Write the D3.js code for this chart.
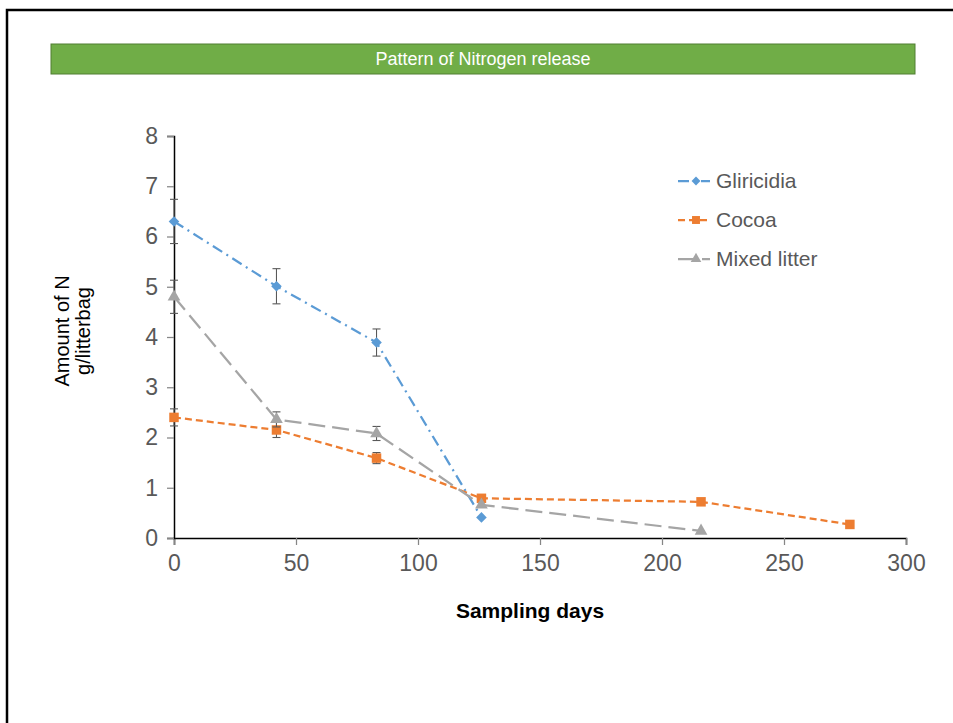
<!DOCTYPE html>
<html>
<head>
<meta charset="utf-8">
<script src="https://cdn.jsdelivr.net/npm/d3@7"></script>
<style>
  body { margin: 0; background: #fff; }
  text { font-family: "Liberation Sans", Arial, sans-serif; }
</style>
</head>
<body>
<div id="chart"></div>
<script>
// Data
const seriesNames = ["Gliricidia", "Cocoa", "Mixed litter"];
const gliricidiaDays = [0, 42, 83, 126];
const gliricidiaN = [6.3, 5.01, 3.89, 0.41];
const gliricidiaErr = [0.44, 0.35, 0.27, 0];
const cocoaDays = [0, 42, 83, 126, 216, 277];
const cocoaN = [2.4, 2.15, 1.59, 0.79, 0.72, 0.27];
const cocoaErr = [0.17, 0.15, 0.11, 0, 0, 0];
const mixedDays = [0, 42, 83, 126, 216];
const mixedN = [4.8, 2.36, 2.08, 0.66, 0.14];
const mixedErr = [0.33, 0.15, 0.14, 0, 0];
const xTicks = [0, 50, 100, 150, 200, 250, 300];
const yTicks = [0, 1, 2, 3, 4, 5, 6, 7, 8];

const W = 953, H = 723;
const plot = { left: 174, right: 906, top: 136, bottom: 538 };

const svg = d3.select("#chart").append("svg")
  .attr("width", W).attr("height", H);

// Outer frame
svg.append("path")
  .attr("d", `M7,${H} L7,10 L${W},10`)
  .attr("fill", "none").attr("stroke", "#000").attr("stroke-width", 2.5);

// Title banner
svg.append("rect")
  .attr("x", 51).attr("y", 44).attr("width", 864).attr("height", 30)
  .attr("fill", "#70ad47").attr("stroke", "#507e32").attr("stroke-width", 1);
svg.append("text")
  .attr("x", 483).attr("y", 65)
  .attr("text-anchor", "middle")
  .attr("fill", "#fff").style("font-size", "18px")
  .text("Pattern of Nitrogen release");

const x = d3.scaleLinear().domain([0, 300]).range([plot.left, plot.right]);
const y = d3.scaleLinear().domain([0, 8]).range([plot.bottom, plot.top]);

// Axes
const xAxis = svg.append("g")
  .attr("transform", `translate(0,${plot.bottom})`)
  .call(d3.axisBottom(x).tickValues(xTicks).tickSize(7).tickPadding(10));
const yAxis = svg.append("g")
  .attr("transform", `translate(${plot.left},0)`)
  .call(d3.axisLeft(y).tickValues(yTicks).tickSize(7).tickPadding(9));

[xAxis, yAxis].forEach(g => {
  g.select(".domain").attr("stroke", "#000").attr("stroke-width", 1.5);
  g.selectAll(".tick line").attr("stroke", "#868686").attr("stroke-width", 1.25);
  g.selectAll(".tick text")
    .attr("fill", "#595959")
    .style("font-size", "23px")
    .style("font-family", "'Liberation Sans', Arial, sans-serif");
});
xAxis.selectAll(".tick text").attr("dy", "0.71em");

// Axis titles
svg.append("text")
  .attr("x", 530).attr("y", 618)
  .attr("text-anchor", "middle")
  .style("font-size", "21px").style("font-weight", "bold")
  .text("Sampling days");

const yTitle = svg.append("text")
  .attr("transform", "translate(69,331) rotate(-90)")
  .attr("text-anchor", "middle")
  .style("font-size", "20px");
yTitle.append("tspan").attr("x", 0).attr("dy", 0).text("Amount of N");
yTitle.append("tspan").attr("x", 0).attr("dy", 21).text("g/litterbag");

const series = [
  { name: seriesNames[0], days: gliricidiaDays, vals: gliricidiaN, err: gliricidiaErr,
    color: "#5b9bd5", dash: "11,5,2,5", symbol: d3.symbolSquare, size: 56, rot: 45 },
  { name: seriesNames[1], days: cocoaDays, vals: cocoaN, err: cocoaErr,
    color: "#ed7d31", dash: "7,4", symbol: d3.symbolSquare, size: 90, rot: 0 },
  { name: seriesNames[2], days: mixedDays, vals: mixedN, err: mixedErr,
    color: "#a5a5a5", dash: "17,7", symbol: d3.symbolTriangle, size: 70, rot: 0 }
];

const line = d3.line().x(d => x(d.d)).y(d => y(d.v));

series.forEach(s => {
  const pts = s.days.map((d, i) => ({ d, v: s.vals[i], e: s.err[i] }));

  svg.append("path")
    .datum(pts)
    .attr("d", line)
    .attr("fill", "none")
    .attr("stroke", s.color)
    .attr("stroke-width", 2.25)
    .attr("stroke-dasharray", s.dash);

  // error bars
  const eb = svg.append("g").selectAll("g")
    .data(pts.filter(p => p.e > 0))
    .join("g")
    .attr("stroke", "#595959").attr("stroke-width", 1.1);
  eb.append("line")
    .attr("x1", p => x(p.d)).attr("x2", p => x(p.d))
    .attr("y1", p => y(p.v + p.e)).attr("y2", p => y(p.v - p.e));
  eb.append("line")
    .attr("x1", p => x(p.d) - 4).attr("x2", p => x(p.d) + 4)
    .attr("y1", p => y(p.v + p.e)).attr("y2", p => y(p.v + p.e));
  eb.append("line")
    .attr("x1", p => x(p.d) - 4).attr("x2", p => x(p.d) + 4)
    .attr("y1", p => y(p.v - p.e)).attr("y2", p => y(p.v - p.e));

  svg.append("g").selectAll("path")
    .data(pts)
    .join("path")
    .attr("transform", p => `translate(${x(p.d)},${y(p.v)}) rotate(${s.rot})`)
    .attr("d", d3.symbol().type(s.symbol).size(s.size))
    .attr("fill", s.color);
});

// Legend
const legend = svg.append("g").attr("transform", "translate(678,181)");
series.forEach((s, i) => {
  const g = legend.append("g").attr("transform", `translate(0,${i * 39})`);
  g.append("line")
    .attr("x1", 0).attr("x2", 32).attr("y1", 0).attr("y2", 0)
    .attr("stroke", s.color).attr("stroke-width", 2.25)
    .attr("stroke-dasharray", s.dash);
  g.append("path")
    .attr("transform", `translate(18,0) rotate(${s.rot})`)
    .attr("d", d3.symbol().type(s.symbol).size(s.size * 0.7))
    .attr("fill", s.color);
  g.append("text")
    .attr("x", 38).attr("y", 0).attr("dy", "0.35em")
    .attr("fill", "#595959")
    .style("font-size", "21px")
    .text(s.name);
});
</script>
</body>
</html>
